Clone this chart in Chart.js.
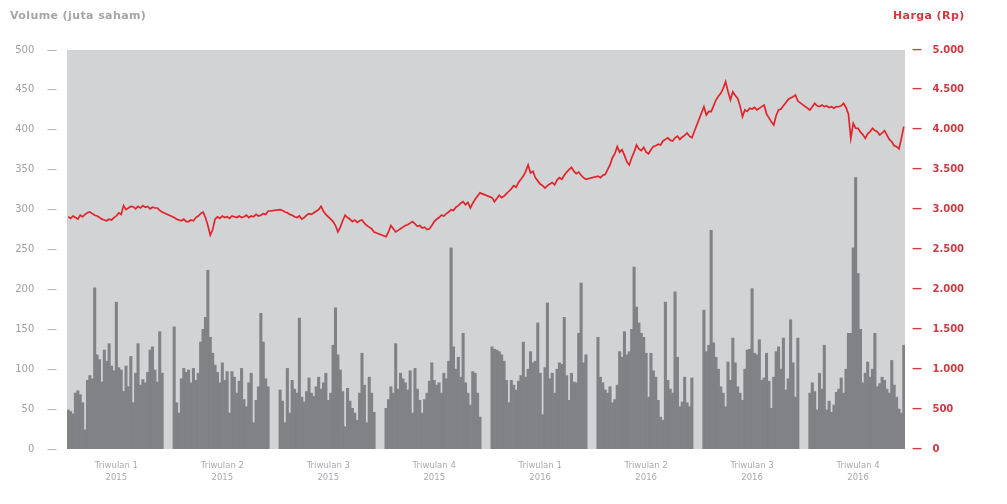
<!DOCTYPE html>
<html>
<head>
<meta charset="utf-8">
<script src="https://cdn.jsdelivr.net/npm/chart.js@4.4.1/dist/chart.umd.min.js"></script>
<style>
    body { margin: 0; background: #fff; }
    #wrap { position: relative; width: 1007px; height: 504px; }
    .ttl { position: absolute; top: 9px; font-family: "DejaVu Sans", sans-serif; font-size: 11px; font-weight: bold; }
    #ttlLeft { left: 10px; color: #a3a5a8; letter-spacing: 0.4px; }
    #ttlRight { left: 893px; color: #d33a40; letter-spacing: 0.4px; }
</style>
</head>
<body>
<div id="wrap">
    <div class="ttl" id="ttlLeft">Volume (juta saham)</div>
    <div class="ttl" id="ttlRight">Harga (Rp)</div>
    <canvas id="stock_chart"></canvas>
</div>
<script>
// quarter labels
var quarters = [
    ['Triwulan 1', '2015'], ['Triwulan 2', '2015'], ['Triwulan 3', '2015'], ['Triwulan 4', '2015'],
    ['Triwulan 1', '2016'], ['Triwulan 2', '2016'], ['Triwulan 3', '2016'], ['Triwulan 4', '2016']
];

// volume (juta saham)
var vol_q1_2015 = [49, 47, 44, 70, 73, 68, 58, 24, 86, 92, 88, 202, 118, 112, 84, 124, 110, 132, 104, 98, 184, 102, 99, 72, 104, 78, 116, 58, 95, 132, 80, 87, 83, 96, 124, 128, 99, 84, 147, 95];
var vol_q2_2015 = [153, 58, 45, 88, 101, 96, 99, 83, 101, 86, 95, 134, 150, 165, 224, 140, 120, 105, 96, 83, 108, 86, 97, 45, 97, 90, 70, 85, 101, 62, 53, 83, 95, 33, 61, 78, 170, 134, 88, 78];
var vol_q3_2015 = [74, 60, 33, 101, 45, 86, 75, 70, 164, 65, 59, 72, 89, 70, 66, 78, 90, 75, 83, 95, 61, 70, 130, 177, 118, 99, 72, 28, 76, 60, 51, 45, 36, 70, 120, 80, 33, 90, 70, 46];
var vol_q4_2015 = [51, 62, 78, 70, 132, 75, 95, 88, 83, 74, 98, 45, 101, 75, 61, 45, 62, 70, 85, 108, 86, 80, 83, 70, 95, 88, 110, 252, 128, 100, 115, 90, 145, 83, 70, 55, 97, 95, 70, 40];
var vol_q1_2016 = [128, 125, 124, 122, 118, 110, 86, 58, 86, 80, 74, 85, 92, 134, 90, 100, 122, 108, 110, 158, 95, 43, 102, 183, 88, 95, 70, 100, 108, 106, 165, 92, 61, 95, 84, 83, 145, 208, 108, 118];
var vol_q2_2016 = [140, 90, 83, 74, 70, 78, 58, 62, 80, 122, 115, 147, 118, 122, 150, 228, 178, 158, 145, 140, 120, 65, 120, 98, 90, 61, 40, 36, 184, 86, 75, 70, 197, 115, 53, 59, 90, 58, 53, 89];
var vol_q3_2016 = [174, 122, 130, 274, 133, 115, 100, 78, 70, 53, 109, 86, 139, 108, 78, 70, 61, 100, 124, 125, 201, 120, 118, 137, 86, 89, 120, 85, 51, 90, 122, 128, 100, 139, 74, 88, 162, 108, 65, 139];
var vol_q4_2016 = [70, 83, 72, 49, 95, 75, 130, 49, 60, 46, 55, 71, 75, 89, 70, 100, 145, 145, 252, 340, 220, 150, 83, 95, 109, 90, 100, 145, 78, 82, 90, 86, 75, 70, 111, 80, 65, 50, 45, 130];

// harga (Rp)
var price_q1_2015 = [2910, 2890, 2920, 2900, 2880, 2930, 2910, 2940, 2960, 2970, 2950, 2930, 2920, 2900, 2880, 2870, 2860, 2880, 2870, 2900, 2920, 2960, 2940, 3050, 3000, 3020, 3040, 3036, 3010, 3040, 3020, 3050, 3030, 3040, 3010, 3030, 3020, 3020, 2990, 2970];
var price_q2_2015 = [2900, 2880, 2870, 2860, 2880, 2850, 2850, 2870, 2860, 2900, 2920, 2950, 2970, 2900, 2800, 2680, 2750, 2880, 2910, 2890, 2920, 2900, 2910, 2890, 2920, 2910, 2900, 2920, 2900, 2910, 2930, 2900, 2920, 2910, 2940, 2920, 2930, 2950, 2940, 2980];
var price_q3_2015 = [3000, 2990, 2970, 2960, 2940, 2930, 2910, 2900, 2920, 2880, 2900, 2930, 2950, 2940, 2960, 2980, 3000, 3040, 2980, 2940, 2910, 2880, 2850, 2800, 2720, 2780, 2860, 2930, 2900, 2880, 2850, 2870, 2840, 2860, 2870, 2830, 2800, 2780, 2760, 2720];
var price_q4_2015 = [2660, 2720, 2800, 2760, 2720, 2740, 2760, 2780, 2800, 2810, 2830, 2850, 2820, 2790, 2800, 2770, 2780, 2750, 2760, 2800, 2850, 2880, 2900, 2930, 2920, 2950, 2970, 3000, 2990, 3030, 3050, 3080, 3100, 3060, 3090, 3020, 3080, 3130, 3170, 3210];
var price_q1_2016 = [3150, 3100, 3140, 3180, 3150, 3170, 3200, 3230, 3260, 3300, 3280, 3340, 3380, 3420, 3480, 3560, 3460, 3480, 3400, 3360, 3320, 3300, 3270, 3300, 3320, 3340, 3310, 3370, 3400, 3380, 3430, 3470, 3500, 3530, 3480, 3450, 3470, 3430, 3400, 3380];
var price_q2_2016 = [3420, 3400, 3430, 3440, 3500, 3560, 3650, 3700, 3790, 3720, 3750, 3680, 3600, 3560, 3650, 3720, 3810, 3760, 3740, 3780, 3720, 3700, 3750, 3790, 3800, 3820, 3810, 3860, 3880, 3900, 3870, 3860, 3900, 3920, 3880, 3910, 3930, 3960, 3920, 3900];
var price_q3_2016 = [4289, 4185, 4230, 4227, 4300, 4373, 4420, 4456, 4520, 4602, 4480, 4373, 4477, 4430, 4394, 4300, 4164, 4250, 4230, 4269, 4260, 4280, 4250, 4269, 4290, 4310, 4200, 4150, 4100, 4060, 4180, 4248, 4260, 4300, 4340, 4380, 4400, 4414, 4436, 4360];
var price_q4_2016 = [4248, 4290, 4331, 4300, 4290, 4310, 4290, 4300, 4280, 4289, 4270, 4290, 4289, 4300, 4331, 4280, 4200, 3893, 4081, 4020, 4018, 3970, 3940, 3893, 3950, 3976, 4018, 3990, 3976, 3934, 3960, 3990, 3934, 3880, 3850, 3800, 3788, 3760, 3893, 4039];

var volume_quarters = [vol_q1_2015, vol_q2_2015, vol_q3_2015, vol_q4_2015, vol_q1_2016, vol_q2_2016, vol_q3_2016, vol_q4_2016];
var price_quarters = [price_q1_2015, price_q2_2015, price_q3_2015, price_q4_2015, price_q1_2016, price_q2_2016, price_q3_2016, price_q4_2016];

// empty slots between quarter blocks
var GAP = 4;

var labels = [], volume = [], price = [];
quarters.forEach(function (q, i) {
    if (i > 0) {
        for (var g = 0; g < GAP; g++) {
            labels.push('');
            volume.push(null);
            price.push(null);
        }
    }
    var mid = Math.floor(volume_quarters[i].length / 2);
    volume_quarters[i].forEach(function (v, j) {
        labels.push(j === mid ? q : '');
        volume.push(v);
        price.push(price_quarters[i][j]);
    });
});

var dotThousands = function (v) {
    return String(v).replace(/\B(?=(\d{3})+(?!\d))/g, '.');
};

var plotBg = {
    id: 'plotBg',
    beforeDraw: function (chart) {
        var a = chart.chartArea;
        var c = chart.ctx;
        c.save();
        c.fillStyle = '#d1d3d4';
        c.fillRect(a.left, a.top, a.right - a.left, a.bottom - a.top);
        c.restore();
    }
};

var ctx_stock = document.getElementById('stock_chart');
var stock_g = new Chart(ctx_stock, {
    type: 'bar',
    data: {
        labels: labels,
        datasets: [{
            type: 'line',
            label: 'Harga',
            data: price,
            yAxisID: 'y1',
            borderColor: '#e2232b',
            borderWidth: 1.7,
            pointRadius: 0,
            tension: 0,
            spanGaps: true,
            order: 0
        }, {
            type: 'bar',
            label: 'Volume',
            data: volume,
            yAxisID: 'y',
            backgroundColor: '#808285',
            borderWidth: 0,
            barPercentage: 1,
            categoryPercentage: 1,
            order: 1
        }]
    },
    options: {
        responsive: true,
        maintainAspectRatio: false,
        animation: false,
        layout: { padding: { top: 50 } },
        plugins: { legend: { display: false }, tooltip: { enabled: false } },
        scales: {
            x: {
                grid: { display: false, drawTicks: false },
                border: { display: false },
                ticks: {
                    autoSkip: false,
                    maxRotation: 0,
                    minRotation: 0,
                    padding: 10,
                    color: '#a7a9ac',
                    font: { family: 'DejaVu Sans', size: 8.5, lineHeight: 1.5 }
                },
                afterFit: function (scale) { scale.height = 55; }
            },
            y: {
                position: 'left',
                min: 0,
                max: 500,
                grid: { display: false, drawTicks: false },
                border: { display: false },
                ticks: {
                    stepSize: 50,
                    padding: 10,
                    color: '#9d9fa2',
                    font: { family: 'DejaVu Sans', size: 10 },
                    callback: function (v) { return v + '    \u2014'; }
                },
                afterFit: function (scale) { scale.width = 67; }
            },
            y1: {
                position: 'right',
                min: 0,
                max: 5000,
                grid: { display: false, drawTicks: false },
                border: { display: false },
                ticks: {
                    stepSize: 500,
                    padding: 7,
                    color: '#cf3a41',
                    font: { family: 'DejaVu Sans', size: 10, weight: 'bold' },
                    callback: function (v) { return '\u2014   ' + dotThousands(v); }
                },
                afterFit: function (scale) { scale.width = 102; }
            }
        }
    },
    plugins: [plotBg]
});
</script>
</body>
</html>
